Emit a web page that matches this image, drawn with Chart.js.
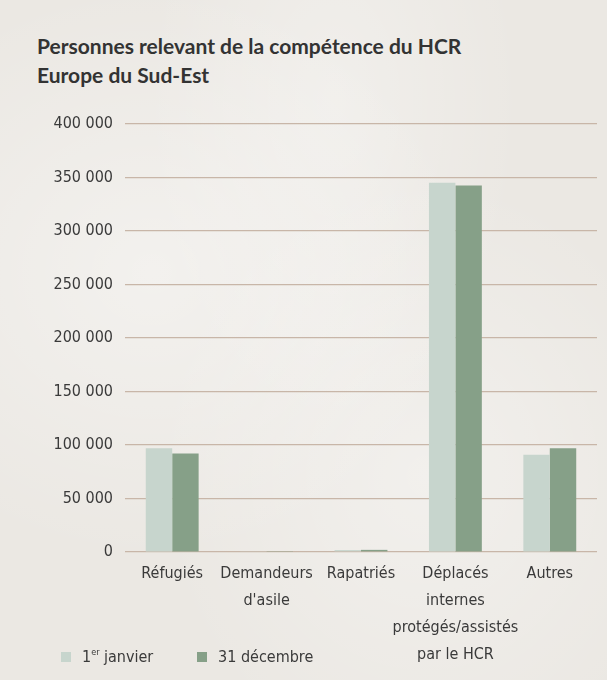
<!DOCTYPE html>
<html lang="fr">
<head>
<meta charset="utf-8">
<script src="https://cdn.jsdelivr.net/npm/chart.js@4"></script>
<style>
  html, body { margin: 0; padding: 0; }
  body {
    width: 607px; height: 680px; position: relative; overflow: hidden;
    background: #ebe8e3;
    background-image:
      radial-gradient(ellipse at 25% 40%, rgba(255,255,255,0.4), rgba(255,255,255,0) 50%),
      radial-gradient(ellipse at 70% 70%, rgba(255,255,255,0.35), rgba(255,255,255,0) 45%),
      radial-gradient(ellipse at 55% 15%, rgba(255,255,255,0.3), rgba(255,255,255,0) 40%);
  }
  #title {
    position: absolute; left: 37px; top: 31px;
    font-family: Lato, "Open Sans", sans-serif; font-weight: 700;
    font-size: 21px; line-height: 29px; color: #333333;
  }
  canvas { position: absolute; left: 0; top: 0; }
  .leg {
    position: absolute; top: 645px;
    font-family: "DejaVu Sans Condensed", "Liberation Sans Narrow", sans-serif;
    font-size: 16px; color: #3a3a3a; line-height: 24px;
  }
  .leg .sw { display: inline-block; width: 10px; height: 10px; margin-right: 11px; vertical-align: 0px; }
  .leg sup { font-size: 9px; vertical-align: 7px; line-height: 0; }
</style>
</head>
<body>
<div id="title">Personnes relevant de la compétence du HCR<br>Europe du Sud-Est</div>
<canvas id="c" width="607" height="680"></canvas>
<div id="legend"></div>
<script>
const categories = [
  'Réfugiés',
  ['Demandeurs', "d'asile"],
  'Rapatriés',
  ['Déplacés', 'internes', 'protégés/assistés', 'par le HCR'],
  'Autres'
];
const seriesNames = ['1er janvier', '31 décembre'];
const janvier = [97000, 400, 1800, 345000, 91000];
const decembre = [92000, 300, 2000, 342500, 97000];
const yTicks = [0, 50000, 100000, 150000, 200000, 250000, 300000, 350000, 400000];
const colors = ['#c7d5cd', '#86a088'];

const font = "'DejaVu Sans Condensed', 'Liberation Sans Narrow', sans-serif";

const chart = new Chart(document.getElementById('c'), {
  type: 'bar',
  data: {
    labels: categories,
    datasets: [
      { label: seriesNames[0], data: janvier, backgroundColor: colors[0] },
      { label: seriesNames[1], data: decembre, backgroundColor: colors[1] }
    ]
  },
  options: {
    responsive: false,
    devicePixelRatio: 1,
    animation: false,
    layout: { padding: { top: 124, right: 10, bottom: 0, left: 0 } },
    datasets: { bar: { categoryPercentage: 0.56, barPercentage: 1.0 } },
    plugins: { legend: { display: false }, tooltip: { enabled: false }, title: { display: false } },
    scales: {
      x: {
        grid: { display: false, drawTicks: false },
        border: { display: false },
        ticks: { color: '#3a3a3a', font: { family: font, size: 16, lineHeight: '27px' }, padding: 8, maxRotation: 0, autoSkip: false },
        afterFit: s => { s.height = 128; }
      },
      y: {
        min: 0, max: 400000,
        afterBuildTicks: s => { s.ticks = yTicks.map(v => ({ value: v })); },
        grid: { color: '#c8b6a8', lineWidth: 1.2, drawTicks: false },
        border: { display: false },
        ticks: {
          color: '#3a3a3a', font: { family: font, size: 16 }, padding: 12,
          callback: v => v === 0 ? '0' : String(v).replace(/\B(?=(\d{3})+(?!\d))/g, ' ')
        },
        afterFit: s => { s.width = 125; }
      }
    }
  }
});

// legend built from the dataset names and colours
const legendEl = document.getElementById('legend');
const legendX = [61, 197];
chart.data.datasets.forEach((ds, i) => {
  const d = document.createElement('div');
  d.className = 'leg';
  d.style.left = legendX[i] + 'px';
  d.innerHTML = '<span class="sw" style="background:' + ds.backgroundColor + '"></span>' +
    ds.label.replace(/^1er/, '1<sup>er</sup>');
  legendEl.appendChild(d);
});
</script>
</body>
</html>
